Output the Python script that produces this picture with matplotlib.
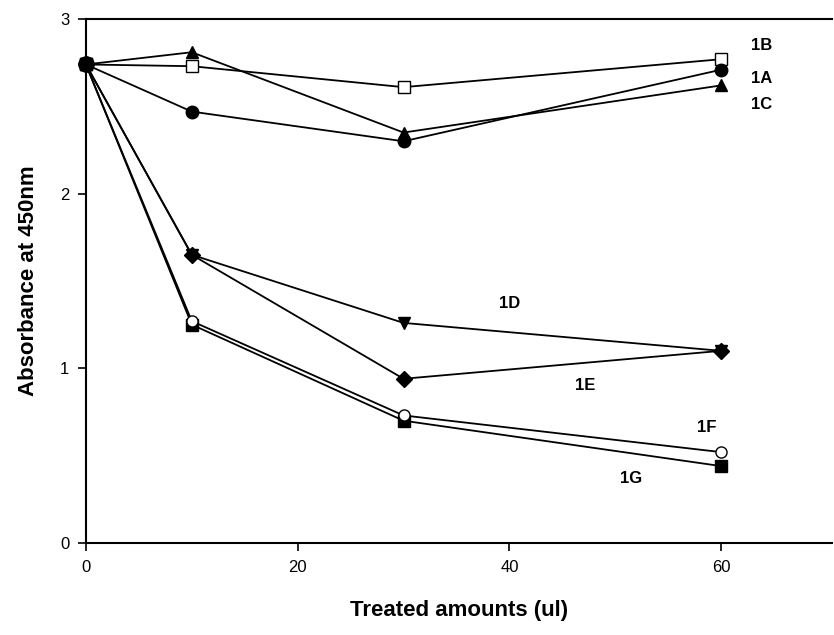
import matplotlib.pyplot as plt

plt.rcParams['font.family'] = ['Liberation Sans', 'DejaVu Sans']

# treated amounts (ul)
x = [0, 10, 30, 60]

# absorbance at 450nm for each sample
a1 = [2.74, 2.47, 2.30, 2.71]
b1 = [2.74, 2.73, 2.61, 2.77]
c1 = [2.74, 2.81, 2.35, 2.62]
d1 = [2.74, 1.65, 1.26, 1.10]
e1 = [2.74, 1.65, 0.94, 1.10]
f1 = [2.74, 1.27, 0.73, 0.52]
g1 = [2.74, 1.25, 0.70, 0.44]

names = ['1A', '1B', '1C', '1D', '1E', '1F', '1G']
label_x = [63.8, 63.8, 63.8, 40.0, 47.2, 58.6, 51.5]
label_y = [2.66, 2.85, 2.51, 1.37, 0.90, 0.66, 0.37]

fig = plt.figure(figsize=(8.34, 6.35), dpi=100)
ax = fig.add_axes([0.103, 0.145, 0.895, 0.825])

lw = 1.3
kw = dict(color='black', lw=lw, clip_on=False, mec='black')
ax.plot(x, g1, marker='s', ms=8, mfc='black', **kw)
ax.plot(x, f1, marker='o', ms=8, mfc='white', **kw)
ax.plot(x, e1, marker='D', ms=8, mfc='black', **kw)
ax.plot(x, d1, marker='v', ms=8, mfc='black', **kw)
ax.plot(x, c1, marker='^', ms=8, mfc='black', **kw)
ax.plot(x, b1, marker='s', ms=8, mfc='white', **kw)
ax.plot(x, a1, marker='o', ms=9, mfc='black', **kw)
# the shared starting point shows as one big filled circle
ax.plot(x[:1], a1[:1], marker='o', ms=11, mfc='black', **kw)

for n, tx, ty in zip(names, label_x, label_y):
    ax.text(tx, ty, n, fontsize=12, fontweight='bold', ha='center', va='center')

ax.set_xlim(0, 70.5)
ax.set_ylim(0, 3)
ax.set_xticks([0, 20, 40, 60])
ax.set_yticks([0, 1, 2, 3])
ax.tick_params(direction='out', length=6, width=1.2, labelsize=12, pad=6)
ax.spines['right'].set_visible(False)
for s in ['left', 'bottom', 'top']:
    ax.spines[s].set_linewidth(1.5)

ax.set_xlabel('Treated amounts (ul)', fontsize=16, fontweight='bold', labelpad=18)
ax.set_ylabel('Absorbance at 450nm', fontsize=16, fontweight='bold', labelpad=15)

fig.savefig('out.png', dpi=100)
